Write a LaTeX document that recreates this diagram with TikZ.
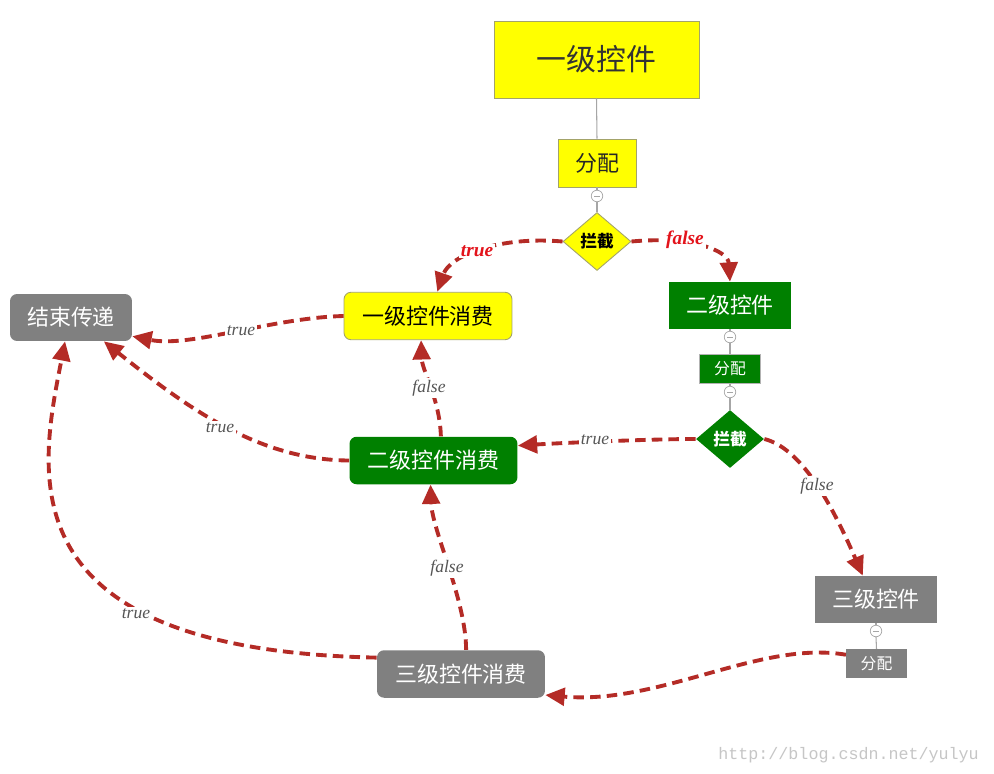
\documentclass[tikz,border=0pt]{standalone}
\usepackage{fontspec}
\setmainfont{Liberation Serif}
\setmonofont{Liberation Mono}
\newfontfamily\cjk{Noto Sans CJK SC}
\usetikzlibrary{shapes.geometric,arrows.meta}
\definecolor{boxyellow}{HTML}{FFFF00}
\definecolor{boxgreen}{HTML}{008000}
\definecolor{boxgray}{HTML}{808080}
\definecolor{edgeyellow}{HTML}{A3A36A}
\definecolor{flowred}{HTML}{B42B26}
\definecolor{labelred}{HTML}{E3131B}
\definecolor{labelgray}{HTML}{555555}
\begin{document}
\begin{tikzpicture}[x=0.02cm, y=-0.02cm,
    ctrl/.style={rectangle, inner sep=0pt, font=\cjk\fontsize{12.5}{15}\selectfont},
    yellowbox/.style={ctrl, fill=boxyellow, draw=edgeyellow, line width=0.5pt},
    greenbox/.style={ctrl, fill=boxgreen, text=white},
    graybox/.style={ctrl, fill=boxgray, text=white},
    consume/.style={rounded corners=4pt, minimum width=3.36cm, minimum height=0.95cm},
    level/.style={minimum width=2.44cm, minimum height=0.94cm},
    small/.style={minimum width=1.21cm, minimum height=0.57cm, font=\cjk\fontsize{9}{10}\selectfont},
    decide/.style={diamond, inner sep=0pt, minimum width=1.36cm, minimum height=1.16cm,
        font=\cjk\bfseries\fontsize{9.5}{10}\selectfont},
    fold/.style={circle, draw=gray!70, fill=white, minimum size=0.23cm, inner sep=0pt, line width=0.4pt},
    stem/.style={draw=gray!70, line width=0.6pt},
    flow/.style={draw=flowred, line width=2.2pt, dash pattern=on 6pt off 3.5pt,
        -{Triangle[length=11pt,width=10pt]}},
    lbl/.style={font=\itshape\fontsize{10}{12}\selectfont, text=labelgray, fill=white, inner sep=1pt},
    lblred/.style={font=\bfseries\itshape\fontsize{11}{13}\selectfont, text=labelred, fill=white, inner sep=1pt}
]
\path[use as bounding box, fill=white] (0,0) rectangle (994,774);

% level one
\node[yellowbox, minimum width=4.1cm, minimum height=1.54cm, text=black!80,
    font=\cjk\fontsize{17}{20}\selectfont] (k1) at (596.5,59.5) {一级控件};
\node[yellowbox, minimum width=1.56cm, minimum height=0.96cm, text=black!85] (s1) at (597,163) {分配};
\node[fold] (f1) at (597,196) {};
\node[yellowbox, decide] (d1) at (597,241.5) {拦截};
\node[yellowbox, consume] (c1) at (428,316) {一级控件消费};
\node[graybox, level, rounded corners=4pt] (end) at (71,317.5) {结束传递};

% level two
\node[greenbox, level] (k2) at (730,305.5) {二级控件};
\node[fold] (f2) at (730,337) {};
\node[greenbox, small, draw=gray!60, line width=0.4pt] (s2) at (730,369) {分配};
\node[fold] (f3) at (730,392) {};
\node[greenbox, decide] (d2) at (730,439) {拦截};
\node[greenbox, consume] (c2) at (433.5,460.5) {二级控件消费};

% level three
\node[graybox, level] (k3) at (876,599.5) {三级控件};
\node[fold] (f4) at (876,631) {};
\node[graybox, small] (s3) at (876.5,663.5) {分配};
\node[graybox, consume] (c3) at (461,674) {三级控件消费};

% stems
\draw[stem] (k1.south) -- (s1.north);
\draw[stem] (s1.south) -- (f1.north);
\draw[stem] (f1.south) -- (d1.north);
\draw[stem] (k2.south) -- (f2.north);
\draw[stem] (f2.south) -- (s2.north);
\draw[stem] (s2.south) -- (f3.north);
\draw[stem] (f3.south) -- (d2.north);
\draw[stem] (k3.south) -- (f4.north);
\draw[stem] (f4.south) -- (s3.north);
\foreach \f in {f1,f2,f3,f4}
    \draw[gray!70, line width=0.4pt] ([xshift=-1.6pt]\f.center) -- ([xshift=1.6pt]\f.center);

% event flow
\draw[flow] (d1.west) .. controls (500,236) and (450,255) .. (c1.69);
\draw[flow] (d1.east) .. controls (690,236) and (728,250) .. (k2.north);
\draw[flow] (c1.west) .. controls (270,318) and (190,348) .. (end.-17);
\draw[flow] (c2.73) .. controls (440,400) and (422,370) .. (c1.254);
\draw[flow] (c2.west) .. controls (260,460) and (190,410) .. (end.-36);
\draw[flow] (d2.west) .. controls (650,439) and (560,443) .. (c2.10);
\draw[flow] (d2.east) .. controls (800,448) and (830,500) .. (k3.119);
\draw[flow] (c3.78) .. controls (466,600) and (432,530) .. (c2.-97);
\draw[flow] (c3.169) .. controls (0,650) and (40,470) .. (end.-104);
\draw[flow] (s3.164) .. controls (760,640) and (660,705) .. (c3.-14);

% labels
\node[lblred] (t1) at (477,251) {true};
\node[lblred] (n1) at (685,240) {false};
\node[lbl] (t2) at (241,331) {true};
\node[lbl] (n2) at (429,388) {false};
\node[lbl] (t3) at (220,428) {true};
\node[lbl] (t4) at (595,440) {true};
\node[lbl] (n3) at (817,486) {false};
\node[lbl] (n4) at (447,568) {false};
\node[lbl] (t5) at (136,614) {true};

\node[font=\ttfamily\fontsize{9.5}{11}\selectfont, text=gray!45, anchor=east] (mark) at (985,755)
    {http://blog.csdn.net/yulyu};
\end{tikzpicture}
\end{document}
